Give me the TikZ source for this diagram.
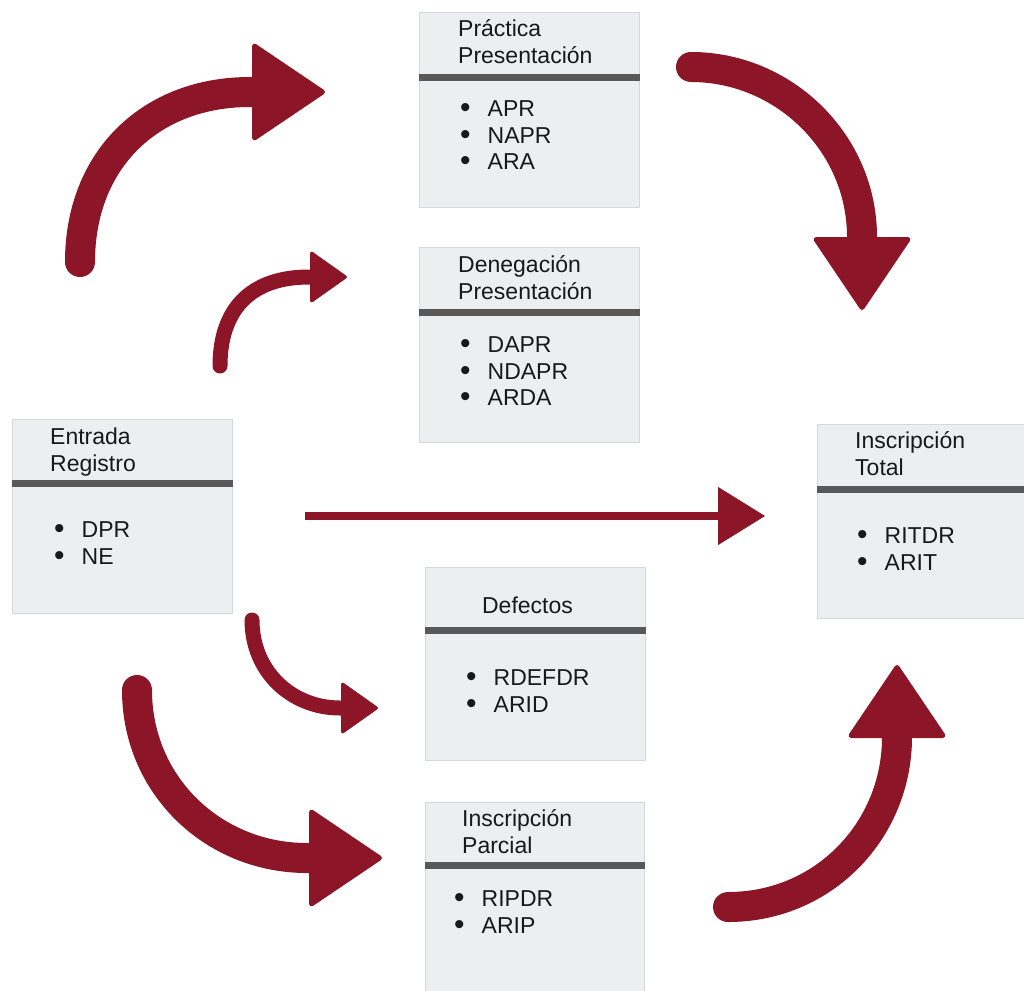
\documentclass[tikz,border=0pt]{standalone}
\usepackage{fontspec}
\setmainfont{Liberation Sans}
\usetikzlibrary{arrows.meta,positioning}
\definecolor{arrowred}{RGB}{140,22,40}
\definecolor{boxfill}{RGB}{236,238,240}
\definecolor{boxline}{RGB}{214,216,218}
\definecolor{bargray}{RGB}{88,88,88}
\definecolor{txtgray}{RGB}{25,25,25}
\newcommand{\bulitem}[1]{\strut\raisebox{-0.8pt}{\scalebox{1.3}{\textbullet}}\hspace{17pt}#1}

\begin{document}
\begin{tikzpicture}[x=1pt, y=-1pt,
    regbox/.style = {draw=boxline, fill=boxfill, line width=1pt, inner sep=0pt, anchor=north west},
    bar/.style = {draw=bargray, line width=7pt},
    boxtitle/.style = {inner sep=0pt, align=left, text=txtgray, font=\fontsize{23}{26.5}\selectfont},
    boxitems/.style = {boxtitle},
    bigarrow/.style = {draw=arrowred, line width=30pt, line cap=round, -{Triangle[length=75pt, width=100pt, round, line width=5pt]}},
    smallarrow/.style = {draw=arrowred, line width=15pt, line cap=round, -{Triangle[length=38pt, width=53pt, round, line width=3pt]}},
    flatarrow/.style = {draw=arrowred, line width=8pt, -{Triangle[length=47pt, width=58pt, line width=1pt]}}]
    \useasboundingbox (0,0) rectangle (1024,990);

    \node[regbox, minimum width=220pt, minimum height=195pt] (practica) at (419,12) {};
    \node[regbox, minimum width=220pt, minimum height=195pt] (denegacion) at (419,247) {};
    \node[regbox, minimum width=220pt, minimum height=194pt] (entrada) at (12,419) {};
    \node[regbox, minimum width=215pt, minimum height=194pt] (total) at (817,424) {};
    \node[regbox, minimum width=220pt, minimum height=193pt] (defectos) at (425,567) {};
    \node[regbox, minimum width=219pt, minimum height=195pt] (parcial) at (425,802) {};

    \draw[bar] ([yshift=-65pt]practica.north west) -- ([yshift=-65pt]practica.north east);
    \draw[bar] ([yshift=-65pt]denegacion.north west) -- ([yshift=-65pt]denegacion.north east);
    \draw[bar] ([yshift=-64pt]entrada.north west) -- ([yshift=-64pt]entrada.north east);
    \draw[bar] ([yshift=-65pt]total.north west) -- ([yshift=-65pt]total.north east);
    \draw[bar] ([yshift=-63pt]defectos.north west) -- ([yshift=-63pt]defectos.north east);
    \draw[bar] ([yshift=-63pt]parcial.north west) -- ([yshift=-63pt]parcial.north east);

    \node[boxtitle, below right=6pt and 39pt of practica.north west] (practicaT) {\strut Práctica\\\strut Presentación};
    \node[boxitems, below right=86pt and 41pt of practica.north west] (practicaL) {\bulitem{APR}\\\bulitem{NAPR}\\\bulitem{ARA}};
    \node[boxtitle, below right=7pt and 39pt of denegacion.north west] (denegacionT) {\strut Denegación\\\strut Presentación};
    \node[boxitems, below right=87pt and 41pt of denegacion.north west] (denegacionL) {\bulitem{DAPR}\\\bulitem{NDAPR}\\\bulitem{ARDA}};
    \node[boxtitle, below right=7pt and 38pt of entrada.north west] (entradaT) {\strut Entrada\\\strut Registro};
    \node[boxitems, below right=100pt and 42pt of entrada.north west] (entradaL) {\bulitem{DPR}\\\bulitem{NE}};
    \node[boxtitle, below right=6pt and 38pt of total.north west] (totalT) {\strut Inscripción\\\strut Total};
    \node[boxitems, below right=101pt and 40pt of total.north west] (totalL) {\bulitem{RITDR}\\\bulitem{ARIT}};
    \node[boxtitle, below=28pt of defectos.north, xshift=-8pt] (defectosT) {\strut Defectos};
    \node[boxitems, below right=100pt and 41pt of defectos.north west] (defectosL) {\bulitem{RDEFDR}\\\bulitem{ARID}};
    \node[boxtitle, below right=6pt and 37pt of parcial.north west] (parcialT) {\strut Inscripción\\\strut Parcial};
    \node[boxitems, below right=86pt and 29pt of parcial.north west] (parcialL) {\bulitem{RIPDR}\\\bulitem{ARIP}};

    \coordinate (a1) at (80,262);
    \coordinate (a2) at (325,92);
    \coordinate (b1) at (220,366);
    \coordinate (b2) at (347,277);
    \coordinate (c1) at (691,67);
    \coordinate (c2) at (862,310);
    \coordinate (d1) at (305,516);
    \coordinate (d2) at (765,516);
    \coordinate (e1) at (252,620);
    \coordinate (e2) at (378,708);
    \coordinate (f1) at (137,690);
    \coordinate (f2) at (382,858);
    \coordinate (g1) at (728,907);
    \coordinate (g2) at (897,665);

    \draw[bigarrow] (a1) .. controls (80,160) and (150,92) .. (250,92) -- (a2);
    \draw[smallarrow] (b1) .. controls (220,310) and (250,277) .. (309,277) -- (b2);
    \draw[bigarrow] (c1) .. controls (784,67) and (862,143) .. (862,237) -- (c2);
    \draw[flatarrow] (d1) -- (d2);
    \draw[smallarrow] (e1) .. controls (252,672) and (292,708) .. (340,708) -- (e2);
    \draw[bigarrow] (f1) .. controls (137,785) and (213,858) .. (307,858) -- (f2);
    \draw[bigarrow] (g1) .. controls (824,907) and (897,830) .. (897,737) -- (g2);
\end{tikzpicture}
\end{document}
